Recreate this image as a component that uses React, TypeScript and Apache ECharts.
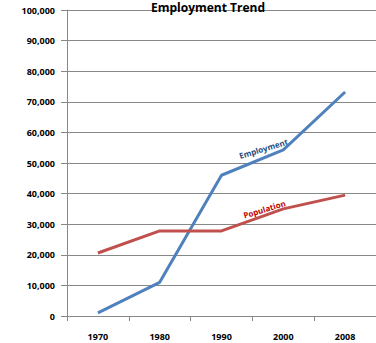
import React, { useEffect, useRef } from "react";
import * as echarts from "echarts";

const years = ["1970", "1980", "1990", "2000", "2008"];
const employment = [1000, 11000, 46000, 54300, 73200];
const population = [20600, 27800, 27800, 35000, 39500];

export default function App() {
  const ref = useRef<HTMLDivElement>(null);
  useEffect(() => {
    const chart = echarts.init(ref.current!, null, { renderer: "svg" });
    const font = "'Open Sans', 'Liberation Sans', sans-serif";
    chart.setOption({
      animation: false,
      title: {
        text: "Employment Trend",
        left: 203,
        top: -4,
        textAlign: "center",
        textStyle: { fontFamily: font, fontWeight: "bold", fontSize: 12, color: "#000" },
      },
      grid: { left: 67, right: -11, top: 10, bottom: 27 },
      xAxis: {
        type: "category",
        data: years,
        boundaryGap: true,
        axisLine: { lineStyle: { color: "#888", width: 1 } },
        axisTick: { show: true, length: 5, lineStyle: { color: "#888" } },
        axisLabel: { margin: 16, fontFamily: font, fontWeight: "bold", fontSize: 9, color: "#000" },
      },
      yAxis: {
        type: "value",
        min: 0,
        max: 100000,
        interval: 10000,
        axisLine: { show: true, lineStyle: { color: "#888", width: 1 } },
        axisTick: { show: true, length: 6, lineStyle: { color: "#888" } },
        splitLine: { lineStyle: { color: "#888", width: 1 } },
        axisLabel: {
          margin: 12,
          fontFamily: font,
          fontWeight: "bold",
          fontSize: 9,
          color: "#000",
          formatter: (v: number) => v.toLocaleString("en-US"),
        },
      },
      series: [
        {
          name: "Employment",
          type: "line",
          data: employment,
          showSymbol: false,
          lineStyle: { color: "#4F81BD", width: 3 },
          itemStyle: { color: "#4F81BD" },
        },
        {
          name: "Population",
          type: "line",
          data: population,
          showSymbol: false,
          lineStyle: { color: "#C0504D", width: 3 },
          itemStyle: { color: "#C0504D" },
        },
      ],
    });
    const empPos = chart.convertToPixel({ seriesIndex: 0 }, [2.6, 53800]) as number[];
    const popPos = chart.convertToPixel({ seriesIndex: 1 }, [2.8, 35000]) as number[];
    chart.setOption({
      graphic: [
        {
          type: "text",
          x: empPos[0] - 20,
          y: empPos[1] - 3,
          rotation: (17 * Math.PI) / 180,
          style: {
            text: "Employment",
            fill: "#1F497D",
            font: `bold 8px ${font}`,
            align: "center",
            verticalAlign: "middle",
          },
        },
        {
          type: "text",
          x: popPos[0] - 19,
          y: popPos[1],
          rotation: (17 * Math.PI) / 180,
          style: {
            text: "Population",
            fill: "#C00000",
            font: `bold 8px ${font}`,
            align: "center",
            verticalAlign: "middle",
          },
        },
      ],
    });
    return () => chart.dispose();
  }, []);
  return <div ref={ref} style={{ width: 376, height: 343, position: "absolute", left: 0, top: 0 }} />;
}
